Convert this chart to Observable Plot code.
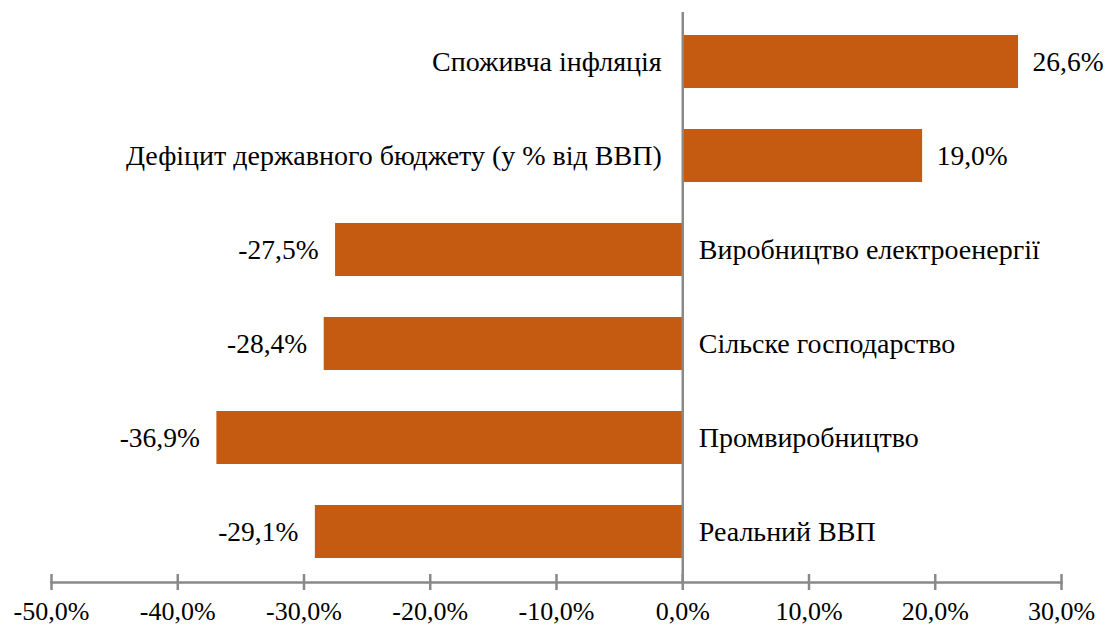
<!DOCTYPE html>
<html>
<head>
<meta charset="utf-8">
<script src="https://cdn.jsdelivr.net/npm/d3@7"></script>
<script src="https://cdn.jsdelivr.net/npm/@observablehq/plot@0.6"></script>
<style>
  html, body { margin: 0; padding: 0; background: #fff; }
</style>
</head>
<body>
<div id="chart"></div>
<script>
const categories = [
  "Споживча інфляція",
  "Дефіцит державного бюджету (у % від ВВП)",
  "Виробництво електроенергії",
  "Сільске господарство",
  "Промвиробництво",
  "Реальний ВВП"
];
const values = [26.6, 19.0, -27.5, -28.4, -36.9, -29.1];
const xTicks = [-50, -40, -30, -20, -10, 0, 10, 20, 30];

const data = categories.map((c, i) => ({category: c, value: values[i]}));
const fmt = d => d.toFixed(1).replace(".", ",") + "%";
const FONT = "'Liberation Serif', serif";
const BAR = "#C55A11";
const GRAY = "#898989";

const chart = Plot.plot({
  width: 1108,
  height: 628,
  marginLeft: 51,
  marginRight: 47,
  marginTop: 14,
  marginBottom: 54,
  style: {fontFamily: FONT, fontSize: "26px", color: "#000", background: "#fff"},
  x: {domain: [-50, 30], label: null},
  y: {domain: categories, range: [14.5, 578.5], paddingInner: 0.436, paddingOuter: 0.218, axis: null},
  marks: [
    Plot.barX(data, {x: "value", y: "category", fill: BAR}),
    Plot.ruleX([0], {stroke: GRAY, strokeWidth: 2.5, insetTop: -2, insetBottom: -8}),
    Plot.frame({anchor: "bottom", stroke: GRAY, strokeWidth: 2.5, dy: 8}),
    Plot.axisX({ticks: xTicks, tickFormat: fmt, tickSize: 16, tickPadding: 11, stroke: GRAY, strokeWidth: 2.5, fill: "#000", fontSize: 26, label: null}),
    Plot.text(data, {filter: d => d.value > 0, x: "value", y: "category", text: d => fmt(d.value), textAnchor: "start", dx: 14, fontSize: 27.5, fill: "#000"}),
    Plot.text(data, {filter: d => d.value < 0, x: "value", y: "category", text: d => fmt(d.value), textAnchor: "end", dx: -17, fontSize: 27.5, fill: "#000"}),
    Plot.text(data, {filter: d => d.value > 0, x: () => 0, y: "category", text: "category", textAnchor: "end", dx: -21, fontSize: 28, fill: "#000"}),
    Plot.text(data, {filter: d => d.value < 0, x: () => 0, y: "category", text: "category", textAnchor: "start", dx: 16, fontSize: 28, fill: "#000"})
  ]
});
document.getElementById("chart").appendChild(chart);
</script>
</body>
</html>
